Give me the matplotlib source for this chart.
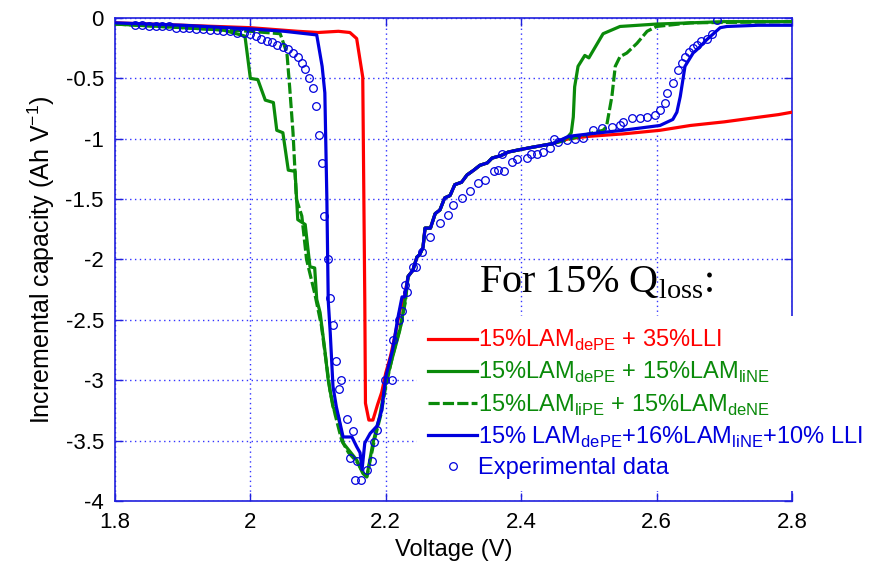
import matplotlib
matplotlib.use("Agg")
import matplotlib.pyplot as plt
from matplotlib.ticker import FuncFormatter
from matplotlib.lines import Line2D

plt.rcParams['font.family'] = ['Liberation Sans', 'DejaVu Sans']
plt.rcParams['axes.unicode_minus'] = False

# Shared rising branch (all model curves overlap here)
rise_v = [2.233, 2.240, 2.246, 2.250, 2.255, 2.258, 2.266, 2.273, 2.280, 2.287,
          2.295, 2.302, 2.312, 2.320, 2.330, 2.339, 2.350, 2.357, 2.370, 2.381,
          2.398, 2.417, 2.447]
rise_q = [-2.14, -2.09, -1.98, -1.96, -1.90, -1.74, -1.74, -1.62, -1.59, -1.49,
          -1.47, -1.38, -1.36, -1.30, -1.26, -1.22, -1.20, -1.16, -1.14, -1.11,
          -1.09, -1.07, -1.04]

# 15%LAM_dePE + 35%LLI (red)
red_v = [1.80, 1.90, 2.00, 2.07, 2.10, 2.13, 2.147, 2.157, 2.166, 2.169, 2.170,
         2.175, 2.181, 2.188, 2.194, 2.200, 2.207, 2.214, 2.221, 2.228] + rise_v + \
        [2.470, 2.500, 2.550, 2.605, 2.650, 2.700, 2.753, 2.780, 2.800]
red_q = [-0.04, -0.06, -0.08, -0.11, -0.12, -0.11, -0.12, -0.17, -0.49, -2.33, -3.19,
         -3.33, -3.33, -3.20, -3.10, -2.94, -2.80, -2.62, -2.42, -2.30] + rise_q + \
        [-1.00, -0.98, -0.96, -0.93, -0.89, -0.86, -0.82, -0.80, -0.78]

# 15%LAM_dePE + 15%LAM_liNE (green solid)
gs_v = [1.80, 1.90, 1.96, 1.992, 2.000, 2.011, 2.022, 2.034, 2.039, 2.048, 2.056,
        2.066, 2.070, 2.081, 2.088, 2.095, 2.098, 2.103, 2.110, 2.115, 2.122, 2.130,
        2.137, 2.147, 2.157, 2.166, 2.172, 2.181, 2.191, 2.199, 2.209, 2.221,
        2.228] + rise_v + \
       [2.468, 2.474, 2.477, 2.479, 2.484, 2.494, 2.500, 2.521, 2.546, 2.600,
        2.700, 2.800]
gs_q = [-0.05, -0.08, -0.10, -0.15, -0.50, -0.51, -0.68, -0.70, -0.93, -0.95, -1.26,
        -1.27, -1.67, -1.71, -2.06, -2.07, -2.33, -2.44, -2.75, -3.00, -3.22, -3.30,
        -3.52, -3.59, -3.66, -3.77, -3.80, -3.52, -3.30, -3.05, -2.83, -2.58,
        -2.36] + rise_q + \
       [-0.99, -0.95, -0.82, -0.57, -0.40, -0.31, -0.33, -0.13, -0.07, -0.05,
        -0.03, -0.03]

# 15%LAM_liPE + 15%LAM_deNE (green dashed)
gd_v = [1.80, 1.90, 2.00, 2.044, 2.054, 2.058, 2.063, 2.068, 2.076, 2.083, 2.095,
        2.105, 2.112, 2.118, 2.125, 2.135, 2.145, 2.158, 2.168, 2.172, 2.183, 2.193,
        2.200, 2.210, 2.222, 2.229] + rise_v + \
       [2.480, 2.500, 2.521, 2.526, 2.534, 2.539, 2.546, 2.556, 2.571, 2.586,
        2.600, 2.650, 2.800]
gd_q = [-0.05, -0.08, -0.11, -0.13, -0.29, -0.57, -0.95, -1.50, -1.64, -2.00, -2.28,
        -2.55, -2.85, -3.10, -3.28, -3.50, -3.60, -3.68, -3.78, -3.80, -3.50, -3.28,
        -3.05, -2.80, -2.55, -2.35] + rise_q + \
       [-0.99, -0.96, -0.93, -0.90, -0.65, -0.40, -0.32, -0.29, -0.21, -0.11,
        -0.07, -0.04, -0.03]

# 15% LAM_dePE + 16%LAM_liNE + 10% LLI (blue)
bl_v = [1.80, 1.90, 2.00, 2.05, 2.098, 2.106, 2.110, 2.113, 2.115, 2.118, 2.122,
        2.127, 2.137, 2.150, 2.157, 2.162, 2.165, 2.169, 2.177, 2.187, 2.194, 2.200,
        2.210, 2.218, 2.224, 2.228] + rise_v + \
       [2.470, 2.500, 2.550, 2.605, 2.624, 2.630, 2.635, 2.642, 2.654, 2.662,
        2.674, 2.694, 2.704, 2.750, 2.800]
bl_q = [-0.04, -0.06, -0.09, -0.11, -0.14, -0.40, -0.62, -1.50, -2.34, -2.61, -3.05,
        -3.22, -3.47, -3.47, -3.55, -3.60, -3.74, -3.52, -3.44, -3.38, -3.25, -2.97,
        -2.75, -2.48, -2.31, -2.31] + rise_q + \
       [-0.98, -0.96, -0.93, -0.89, -0.84, -0.78, -0.65, -0.40, -0.29, -0.25,
        -0.18, -0.08, -0.07, -0.06, -0.06]

# Experimental data (circles)
exp_v = [1.830, 1.840, 1.850, 1.860, 1.870, 1.880, 1.890, 1.900, 1.910, 1.920,
         1.930, 1.940, 1.950, 1.960, 1.970, 1.980, 1.990, 2.000, 2.008, 2.016,
         2.024, 2.032, 2.040, 2.048, 2.056, 2.063, 2.070, 2.076, 2.081, 2.087,
         2.092, 2.097, 2.101, 2.106, 2.109, 2.114, 2.117, 2.122, 2.126, 2.131,
         2.134, 2.142, 2.147, 2.151, 2.154, 2.157, 2.163, 2.172, 2.180, 2.183,
         2.187, 2.199, 2.209, 2.211, 2.219, 2.224, 2.228, 2.232, 2.240, 2.245,
         2.253, 2.265, 2.280, 2.292, 2.300, 2.312, 2.324, 2.336, 2.347, 2.360,
         2.366, 2.372, 2.374, 2.386, 2.394, 2.408, 2.415, 2.423, 2.432,
         2.443, 2.448, 2.455, 2.468, 2.480, 2.491, 2.506, 2.519, 2.534, 2.546,
         2.551, 2.564, 2.575, 2.586, 2.598, 2.605, 2.612, 2.615, 2.624, 2.632,
         2.637, 2.642, 2.648, 2.654, 2.660, 2.666, 2.674, 2.682, 2.689]
exp_q = [-0.06, -0.06, -0.07, -0.07, -0.07, -0.07, -0.08, -0.08, -0.08, -0.09,
         -0.09, -0.10, -0.10, -0.11, -0.11, -0.12, -0.12, -0.13, -0.15, -0.17,
         -0.19, -0.20, -0.22, -0.24, -0.26, -0.29, -0.32, -0.37, -0.42, -0.50,
         -0.58, -0.73, -0.97, -1.20, -1.64, -2.00, -2.32, -2.54, -2.84, -3.07,
         -3.00, -3.32, -3.64, -3.42, -3.83, -3.67, -3.83, -3.74, -3.67, -3.51,
         -3.41, -3.00, -3.00, -2.67, -2.50, -2.43, -2.21, -2.27, -2.06, -2.06,
         -1.94, -1.81, -1.70, -1.63, -1.55, -1.49, -1.43, -1.37, -1.34, -1.27,
         -1.26, -1.13, -1.27, -1.19, -1.17, -1.16, -1.13, -1.13, -1.11,
         -1.08, -1.00, -1.03, -1.01, -1.00, -0.99, -0.93, -0.91, -0.90, -0.89,
         -0.86, -0.83, -0.83, -0.82, -0.80, -0.76, -0.70, -0.62, -0.54, -0.43,
         -0.37, -0.32, -0.28, -0.25, -0.22, -0.19, -0.17, -0.13, -0.02]

x_ticks = [1.8, 2.0, 2.2, 2.4, 2.6, 2.8]
y_ticks = [0, -0.5, -1, -1.5, -2, -2.5, -3, -3.5, -4]

RED = '#ff0000'
GREEN = '#0a8a0a'
BLUE = '#0000dd'
FRAME = '#2020dd'

fig = plt.figure(figsize=(8.75, 5.83), dpi=100)
ax = fig.add_axes([0.1314, 0.1407, 0.7737, 0.8284])

lw = 2.3
ax.plot(red_v, red_q, color=RED, lw=lw, zorder=3)
ax.plot(gs_v, gs_q, color=GREEN, lw=lw, zorder=3)
ax.plot(gd_v, gd_q, color=GREEN, lw=lw, dashes=(3.5, 1.0), zorder=3)
ax.plot(bl_v, bl_q, color=BLUE, lw=lw, zorder=4)
ax.plot(exp_v, exp_q, linestyle='none', marker='o', markersize=5.5,
        markerfacecolor='none', markeredgecolor=BLUE, markeredgewidth=0.9, zorder=5)

ax.set_xlim(1.8, 2.8)
ax.set_ylim(-4, 0)
ax.set_xticks(x_ticks)
ax.set_yticks(y_ticks)
ax.xaxis.set_major_formatter(FuncFormatter(lambda v, p: '%g' % v))
ax.yaxis.set_major_formatter(FuncFormatter(lambda v, p: '%g' % v))
ax.tick_params(direction='in', length=6, width=1, color=FRAME, labelsize=16,
               top=True, right=True, pad=8)
for s in ax.spines.values():
    s.set_color(FRAME)
    s.set_linewidth(1.2)
ax.grid(True, color='#3333ff', linestyle=(0, (1, 2.5)), linewidth=1.0)
ax.set_axisbelow(True)

ax.set_xlabel('Voltage (V)', fontsize=17, labelpad=4)
ax.set_ylabel('Incremental capacity (Ah V$^{\\mathregular{-1}}$)', fontsize=18, labelpad=6)

ax.text(2.337, -2.27, 'For 15% Q$_{\\mathregular{loss}}$:', family='Liberation Serif',
        fontsize=29, va='baseline', ha='left', zorder=6)

handles = [
    Line2D([], [], color=RED, lw=lw),
    Line2D([], [], color=GREEN, lw=lw),
    Line2D([], [], color=GREEN, lw=lw, dashes=(3.5, 1.0)),
    Line2D([], [], color=BLUE, lw=lw),
    Line2D([], [], linestyle='none', marker='o', markersize=5.5,
           markerfacecolor='none', markeredgecolor=BLUE, markeredgewidth=0.9),
]
labels = [
    '15%LAM$_{\\mathregular{dePE}}$ + 35%LLI',
    '15%LAM$_{\\mathregular{dePE}}$ + 15%LAM$_{\\mathregular{liNE}}$',
    '15%LAM$_{\\mathregular{liPE}}$ + 15%LAM$_{\\mathregular{deNE}}$',
    '15% LAM$_{\\mathregular{dePE}}$+16%LAM$_{\\mathregular{liNE}}$+10% LLI',
    'Experimental data',
]
leg = fig.legend(handles, labels, loc='upper left', bbox_to_anchor=(0.476, 0.458),
                 bbox_transform=fig.transFigure, fontsize=17, frameon=True,
                 facecolor='white', edgecolor='none', framealpha=1, fancybox=False,
                 handlelength=2.05, handletextpad=0.05, labelspacing=0.30,
                 borderpad=0.5, borderaxespad=0)
for t, c in zip(leg.get_texts(), [RED, GREEN, GREEN, BLUE, BLUE]):
    t.set_color(c)
leg.set_zorder(10)

fig.savefig('out.png', dpi=100)
